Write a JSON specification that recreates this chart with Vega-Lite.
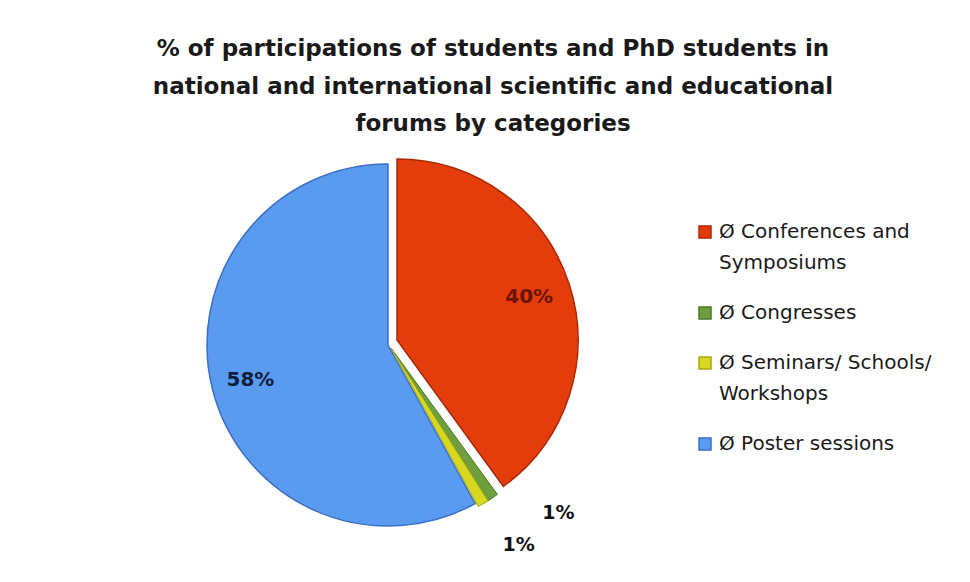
{
  "$schema": "https://vega.github.io/schema/vega-lite/v6.json",
  "autosize": "none",
  "width": 688,
  "height": 390,
  "padding": {"left": 44, "top": 150, "right": 238, "bottom": 42},
  "background": "white",
  "config": {"view": {"stroke": null}, "style": {"guide-label": {"lineHeight": 31}}},
  "title": {
    "text": ["% of participations of students and PhD students in", "national and international scientific and educational", "forums by categories"],
    "font": "DejaVu Sans",
    "fontSize": 23,
    "fontWeight": "bold",
    "color": "#1a1a1a",
    "lineHeight": 37.5,
    "anchor": "middle",
    "frame": "group",
    "dx": 105,
    "offset": 14
  },
  "data": {
    "values": [
      {"cat": "Ø Conferences and Symposiums", "v": 0.40, "ord": 1},
      {"cat": "Ø Congresses", "v": 0.01, "ord": 2},
      {"cat": "Ø Seminars/ Schools/ Workshops", "v": 0.01, "ord": 3},
      {"cat": "Ø Poster sessions", "v": 0.58, "ord": 4}
    ]
  },
  "encoding": {
    "theta": {"field": "v", "type": "quantitative", "stack": true},
    "order": {"field": "ord", "type": "quantitative"}
  },
  "layer": [
    {
      "mark": {"type": "arc", "outerRadius": 181, "strokeWidth": 1.5},
      "encoding": {
        "color": {
          "field": "cat", "type": "nominal",
          "scale": {
            "domain": ["Ø Conferences and Symposiums", "Ø Congresses", "Ø Seminars/ Schools/ Workshops", "Ø Poster sessions"],
            "range": ["#E43C0A", "#6E9E3E", "#D8D820", "#5A9BF0"]
          },
          "legend": {
            "orient": "none",
            "legendX": 651,
            "legendY": 72,
            "title": null,
            "symbolType": "square",
            "symbolSize": 144,
            "labelFont": "DejaVu Sans",
            "labelFontSize": 20,
            "labelColor": "#1a1a1a",
            "labelLimit": 400,
            "rowPadding": 30,
            "labelOffset": 4,
            "labelExpr": "datum.label == 'Ø Conferences and Symposiums' ? ['Ø Conferences and', 'Symposiums'] : datum.label == 'Ø Seminars/ Schools/ Workshops' ? ['Ø Seminars/ Schools/', 'Workshops'] : datum.label"
          }
        },
        "stroke": {
          "field": "cat", "type": "nominal",
          "scale": {
            "domain": ["Ø Conferences and Symposiums", "Ø Congresses", "Ø Seminars/ Schools/ Workshops", "Ø Poster sessions"],
            "range": ["#A82A05", "#4A7A25", "#A8A810", "#3A70C8"]
          },
          "legend": null
        },
        "opacity": {"condition": {"test": "datum.cat === 'Ø Poster sessions'", "value": 1}, "value": 0}
      }
    },
    {
      "mark": {"type": "arc", "outerRadius": 181, "strokeWidth": 1.5, "xOffset": 9, "yOffset": -5},
      "encoding": {
        "color": {"field": "cat", "type": "nominal"},
        "stroke": {"field": "cat", "type": "nominal", "legend": null},
        "opacity": {"condition": {"test": "datum.cat === 'Ø Conferences and Symposiums'", "value": 1}, "value": 0}
      }
    },
    {
      "mark": {"type": "arc", "outerRadius": 181, "strokeWidth": 1, "xOffset": 3, "yOffset": 3},
      "encoding": {
        "color": {"field": "cat", "type": "nominal"},
        "stroke": {"field": "cat", "type": "nominal", "legend": null},
        "opacity": {"condition": {"test": "datum.cat === 'Ø Congresses' || datum.cat === 'Ø Seminars/ Schools/ Workshops'", "value": 1}, "value": 0}
      }
    },
    {
      "mark": {"type": "text", "radius": 139, "xOffset": 9, "yOffset": -5, "font": "DejaVu Sans", "fontSize": 20, "fontWeight": "bold", "color": "#6a1500"},
      "encoding": {
        "detail": {"field": "cat"},
        "text": {"field": "v", "type": "quantitative", "format": ".0%"},
        "opacity": {"condition": {"test": "datum.cat === 'Ø Conferences and Symposiums'", "value": 1}, "value": 0}
      }
    },
    {
      "mark": {"type": "text", "radius": 142, "font": "DejaVu Sans", "fontSize": 20, "fontWeight": "bold", "color": "#0f1e40"},
      "encoding": {
        "detail": {"field": "cat"},
        "text": {"field": "v", "type": "quantitative", "format": ".0%"},
        "opacity": {"condition": {"test": "datum.cat === 'Ø Poster sessions'", "value": 1}, "value": 0}
      }
    },
    {
      "mark": {"type": "text", "radius": 200, "dx": 58, "dy": 3, "font": "DejaVu Sans", "fontSize": 19, "fontWeight": "bold", "color": "#111111"},
      "encoding": {
        "detail": {"field": "cat"},
        "text": {"field": "v", "type": "quantitative", "format": ".0%"},
        "opacity": {"condition": {"test": "datum.cat === 'Ø Congresses'", "value": 1}, "value": 0}
      }
    },
    {
      "mark": {"type": "text", "radius": 225, "dx": 16, "dy": 6, "font": "DejaVu Sans", "fontSize": 19, "fontWeight": "bold", "color": "#111111"},
      "encoding": {
        "detail": {"field": "cat"},
        "text": {"field": "v", "type": "quantitative", "format": ".0%"},
        "opacity": {"condition": {"test": "datum.cat === 'Ø Seminars/ Schools/ Workshops'", "value": 1}, "value": 0}
      }
    }
  ]
}
